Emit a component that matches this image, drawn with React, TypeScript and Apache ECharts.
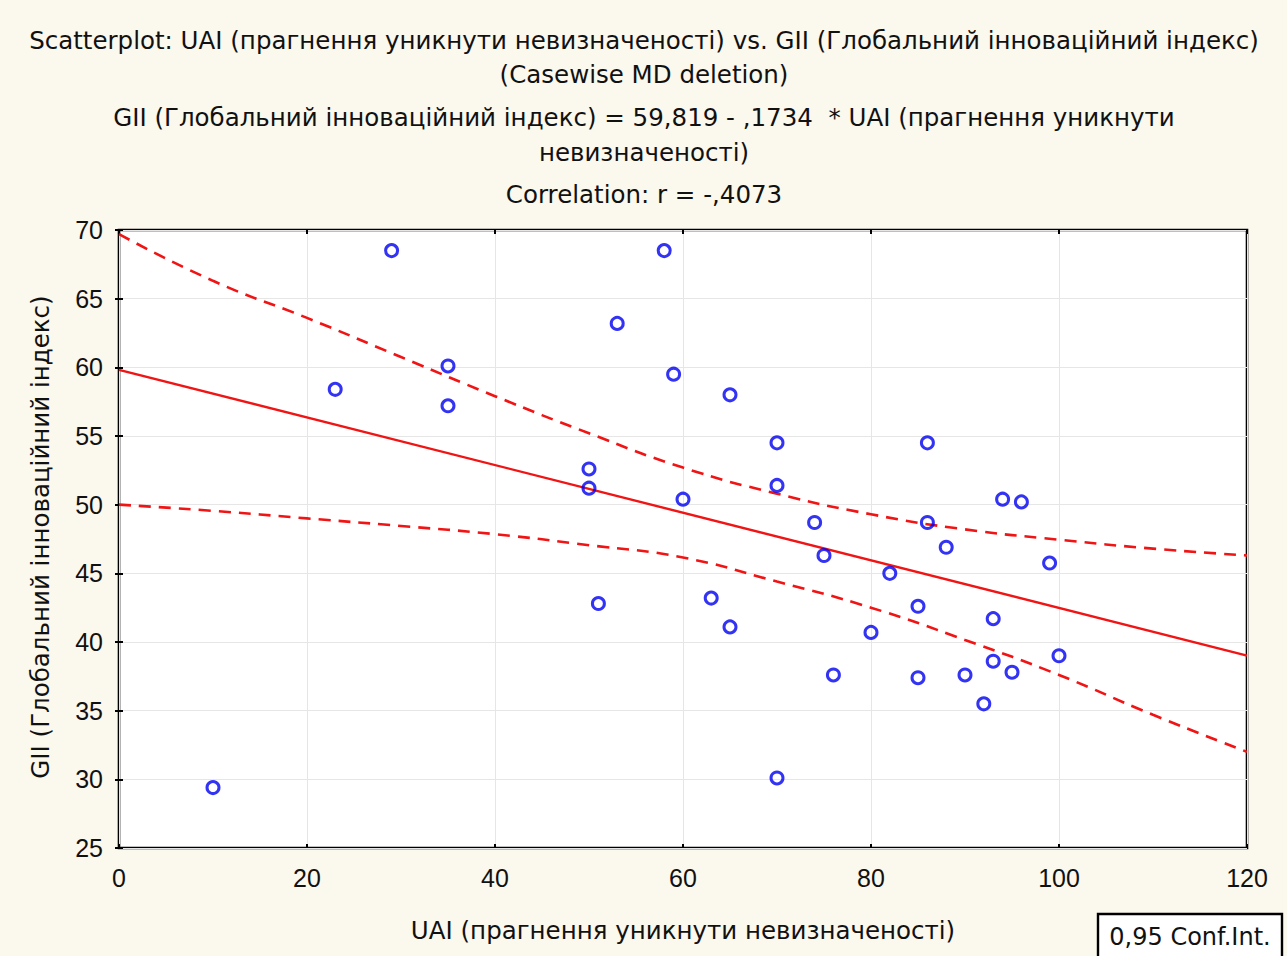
import React, { useEffect, useRef } from "react";
import * as echarts from "echarts";

const uai = [29, 58, 53, 35, 23, 59, 35, 65, 70, 86, 50, 50, 60, 70, 94, 96, 74, 86, 75, 88, 99, 82, 51, 63, 85, 65, 93, 80, 100, 93, 76, 85, 90, 95, 92, 70, 10];
const gii = [68.5, 68.5, 63.2, 60.1, 58.4, 59.5, 57.2, 58.0, 54.5, 54.5, 52.6, 51.2, 50.4, 51.4, 50.4, 50.2, 48.7, 48.7, 46.3, 46.9, 45.75, 45.0, 42.8, 43.2, 42.6, 41.1, 41.7, 40.7, 39.0, 38.6, 37.6, 37.4, 37.6, 37.8, 35.5, 30.1, 29.4];

const fitX = [0, 120];
const fitY = [59.819, 39.01];

const bandX = [0, 10, 20, 30, 40, 50, 60, 70, 80, 90, 100, 110, 120];
const upperBand = [69.7, 66.3, 63.6, 60.75, 57.9, 55.2, 52.7, 50.8, 49.3, 48.2, 47.45, 46.8, 46.3];
const lowerBand = [50.0, 49.55, 49.0, 48.45, 47.85, 47.05, 46.15, 44.4, 42.5, 40.15, 37.6, 34.7, 32.0];

const titleLines = [
  "Scatterplot: UAI (прагнення уникнути невизначеності) vs. GII (Глобальний інноваційний індекс)",
  "(Casewise MD deletion)",
  "GII (Глобальний інноваційний індекс) = 59,819 - ,1734  * UAI (прагнення уникнути",
  "невизначеності)",
  "Correlation: r = -,4073",
];
const titleY = [40, 74, 117, 152, 194];
const xName = "UAI (прагнення уникнути невизначеності)";
const yName = "GII (Глобальний інноваційний індекс)";
const legendText = "0,95 Conf.Int.";

const FONT = "'Liberation Sans', Arial, sans-serif";
const TFONT = "'DejaVu Sans', 'Liberation Sans', sans-serif";
const TSIZE = 24.5;

export default function App() {
  const ref = useRef<HTMLDivElement>(null);
  useEffect(() => {
    document.body.style.margin = "0";
    const chart = echarts.init(ref.current!, null, { renderer: "svg" });
    const zip = (xs: number[], ys: number[]) => xs.map((x, i) => [x, ys[i]]);
    const axisCommon = {
      type: "value" as const,
      axisLine: { show: false },
      axisTick: { show: true, inside: true, length: 4, lineStyle: { color: "#000", width: 2 } },
    };
    chart.setOption({
      animation: false,
      backgroundColor: "#fbf8ee",
      grid: {
        left: 119, top: 230, right: 40, bottom: 108,
        show: true, backgroundColor: "#ffffff", borderColor: "#000", borderWidth: 2.6,
      },
      xAxis: [
        {
          ...axisCommon,
          min: 0, max: 120, interval: 20,
          axisLabel: { color: "#111", fontSize: 25, fontFamily: FONT, margin: 17 },
          splitLine: { show: true, lineStyle: { color: "#e6e6e6", width: 1 } },
        },
        {
          ...axisCommon,
          position: "top",
          min: 0, max: 120, interval: 20,
          axisLabel: { show: false },
          splitLine: { show: false },
        },
      ],
      yAxis: [
        {
          ...axisCommon,
          min: 25, max: 70, interval: 5,
          axisLabel: { color: "#111", fontSize: 25, fontFamily: FONT, margin: 16 },
          splitLine: { show: true, lineStyle: { color: "#e6e6e6", width: 1 } },
        },
        {
          ...axisCommon,
          position: "right",
          min: 25, max: 70, interval: 5,
          axisLabel: { show: false },
          splitLine: { show: false },
        },
      ],
      series: [
        {
          type: "line",
          data: zip(bandX, upperBand),
          smooth: true,
          symbol: "none",
          lineStyle: { color: "#f01414", width: 2.6, type: [12, 8] },
          z: 2,
        },
        {
          type: "line",
          data: zip(bandX, lowerBand),
          smooth: true,
          symbol: "none",
          lineStyle: { color: "#f01414", width: 2.6, type: [12, 8] },
          z: 2,
        },
        {
          type: "line",
          data: zip(fitX, fitY),
          symbol: "none",
          lineStyle: { color: "#f01414", width: 2.4 },
          z: 2,
        },
        {
          type: "scatter",
          data: zip(uai, gii),
          symbol: "circle",
          symbolSize: 12,
          itemStyle: { color: "rgba(255,255,255,0)", borderColor: "#0000f0", borderWidth: 3 },
          z: 3,
        },
      ],
      graphic: [
        ...titleLines.map((t, i) => ({
          type: "text",
          x: 644,
          y: titleY[i],
          style: {
            text: t, fontSize: TSIZE, fontFamily: TFONT, fill: "#111",
            align: "center", verticalAlign: "middle",
          },
        })),
        {
          type: "text",
          x: 683,
          y: 930,
          style: {
            text: xName, fontSize: TSIZE, fontFamily: TFONT, fill: "#111",
            align: "center", verticalAlign: "middle",
          },
        },
        {
          type: "text",
          x: 40,
          y: 537,
          rotation: Math.PI / 2,
          style: {
            text: yName, fontSize: TSIZE, fontFamily: TFONT, fill: "#111",
            align: "center", verticalAlign: "middle",
          },
        },
        {
          type: "rect",
          shape: { x: 1098, y: 914, width: 184, height: 50 },
          style: { fill: "#ffffff", stroke: "#000", lineWidth: 2.4 },
        },
        {
          type: "text",
          x: 1190,
          y: 937,
          style: {
            text: legendText, fontSize: 24, fontFamily: TFONT, fill: "#111",
            align: "center", verticalAlign: "middle",
          },
        },
      ],
    });
    return () => chart.dispose();
  }, []);
  return <div ref={ref} style={{ width: 1287, height: 956 }} />;
}
